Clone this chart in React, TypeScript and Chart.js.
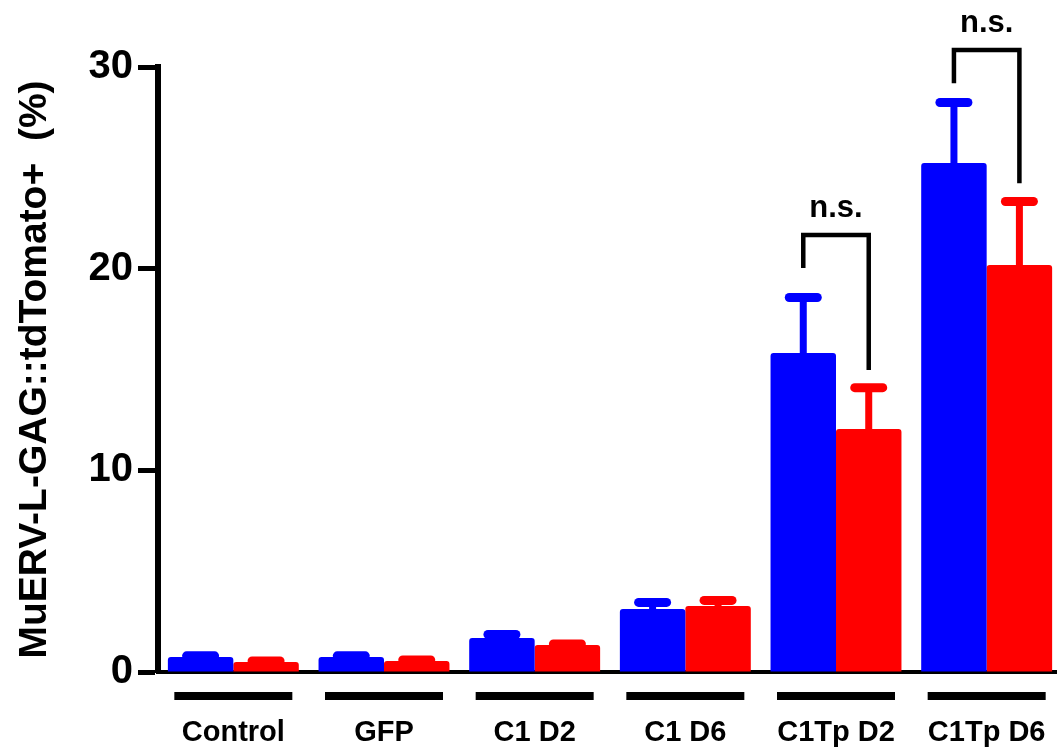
import React, { useEffect, useRef } from "react";
import { Chart, registerables } from "chart.js";

Chart.register(...registerables);

const categories = ["Control", "GFP", "C1 D2", "C1 D6", "C1Tp D2", "C1Tp D6"];
const blueValues = [0.75, 0.75, 1.69, 3.12, 15.82, 25.24];
const blueErrors = [0.05, 0.05, 0.17, 0.33, 2.75, 3.0];
const redValues = [0.5, 0.55, 1.34, 3.27, 12.05, 20.18];
const redErrors = [0.05, 0.05, 0.05, 0.28, 2.05, 3.15];
const yTicks = [0, 10, 20, 30];

const sigCategoryIndex = [4, 5];
const sigLeftBottom = [20.03, 29.2];
const sigTop = [21.67, 30.84];
const sigRightBottom = [14.97, 24.24];
const sigLabels = ["n.s.", "n.s."];

const BLUE = "#0000ff";
const RED = "#ff0000";
const FONT = "'Liberation Sans', Arial, sans-serif";

const errorBarPlugin = {
  id: "errorBars",
  afterDatasetsDraw(chart: any) {
    const ctx = chart.ctx;
    const y = chart.scales.y;
    const sets = [
      { vals: blueValues, errs: blueErrors, color: BLUE },
      { vals: redValues, errs: redErrors, color: RED },
    ];
    sets.forEach((s, di) => {
      const meta = chart.getDatasetMeta(di);
      meta.data.forEach((el: any, i: number) => {
        const x = el.x;
        const yBar = y.getPixelForValue(s.vals[i]);
        const yTop = y.getPixelForValue(s.vals[i] + s.errs[i]);
        ctx.save();
        ctx.strokeStyle = s.color;
        ctx.lineCap = "round";
        ctx.lineWidth = 7;
        ctx.beginPath();
        ctx.moveTo(x, yBar);
        ctx.lineTo(x, yTop);
        ctx.stroke();
        ctx.lineWidth = 9;
        ctx.beginPath();
        ctx.moveTo(x - 14, yTop);
        ctx.lineTo(x + 14, yTop);
        ctx.stroke();
        ctx.restore();
      });
    });
  },
};

const annotationPlugin = {
  id: "annotations",
  afterDraw(chart: any) {
    const ctx = chart.ctx;
    const xs = chart.scales.x;
    const y = chart.scales.y;
    ctx.save();
    ctx.fillStyle = "#000";
    categories.forEach((_, i) => {
      const cx = xs.getPixelForValue(i);
      ctx.fillRect(cx - 59, chart.chartArea.bottom + 20, 118, 8);
    });
    ctx.restore();
    const m0 = chart.getDatasetMeta(0);
    const m1 = chart.getDatasetMeta(1);
    sigCategoryIndex.forEach((ci, k) => {
      const xl = m0.data[ci].x;
      const xr = m1.data[ci].x;
      const yt = y.getPixelForValue(sigTop[k]);
      ctx.save();
      ctx.strokeStyle = "#000";
      ctx.lineWidth = 4.5;
      ctx.lineJoin = "miter";
      ctx.lineCap = "butt";
      ctx.beginPath();
      ctx.moveTo(xl, y.getPixelForValue(sigLeftBottom[k]));
      ctx.lineTo(xl, yt);
      ctx.lineTo(xr, yt);
      ctx.lineTo(xr, y.getPixelForValue(sigRightBottom[k]));
      ctx.stroke();
      ctx.fillStyle = "#000";
      ctx.font = `bold 31px ${FONT}`;
      ctx.textAlign = "center";
      ctx.textBaseline = "alphabetic";
      ctx.fillText(sigLabels[k], (xl + xr) / 2, yt - 18);
      ctx.restore();
    });
  },
};

export default function App() {
  const ref = useRef<HTMLCanvasElement | null>(null);

  useEffect(() => {
    document.body.style.margin = "0";
    document.body.style.overflow = "hidden";
    const canvas = ref.current;
    if (!canvas) return;
    const chart = new Chart(canvas, {
      type: "bar",
      data: {
        labels: categories,
        datasets: [
          {
            label: "blue",
            data: blueValues,
            backgroundColor: BLUE,
            borderWidth: 0,
            borderRadius: 3,
            borderSkipped: "bottom",
            categoryPercentage: 0.869,
            barPercentage: 1,
          },
          {
            label: "red",
            data: redValues,
            backgroundColor: RED,
            borderWidth: 0,
            borderRadius: 3,
            borderSkipped: "bottom",
            categoryPercentage: 0.869,
            barPercentage: 1,
          },
        ],
      },
      options: {
        animation: false,
        responsive: false,
        maintainAspectRatio: false,
        layout: { padding: { top: 67, right: 0, bottom: 0, left: 12 } },
        plugins: { legend: { display: false }, tooltip: { enabled: false } },
        scales: {
          x: {
            type: "category",
            grid: { display: false, drawTicks: false },
            border: { display: true, color: "#000", width: 4 },
            ticks: {
              color: "#000",
              padding: 44,
              font: { family: FONT, size: 29, weight: "bold" },
              maxRotation: 0,
              autoSkip: false,
            },
            afterFit: (s: any) => {
              s.height = 76;
              s.paddingLeft = 0;
              s.paddingRight = 0;
            },
          },
          y: {
            min: 0,
            max: 30,
            afterBuildTicks: (s: any) => {
              s.ticks = yTicks.map((v) => ({ value: v }));
            },
            grid: {
              display: true,
              drawOnChartArea: false,
              drawTicks: true,
              tickLength: 20,
              tickWidth: 5,
              color: "#000",
            },
            border: { display: true, color: "#000", width: 6 },
            ticks: {
              color: "#000",
              padding: 5,
              font: { family: FONT, size: 40, weight: "bold" },
            },
            title: {
              display: true,
              text: "MuERV-L-GAG::tdTomato+  (%)",
              color: "#000",
              padding: 0,
              font: { family: FONT, size: 39, weight: "bold" },
            },
            afterFit: (s: any) => {
              s.width = 146;
              s.paddingTop = 0;
              s.paddingBottom = 0;
            },
          },
        },
      },
      plugins: [errorBarPlugin, annotationPlugin],
    });
    return () => chart.destroy();
  }, []);

  return (
    <div style={{ width: 1057, height: 748, overflow: "hidden" }}>
      <canvas ref={ref} width={1062} height={748} style={{ display: "block", width: 1062, height: 748 }} />
    </div>
  );
}
